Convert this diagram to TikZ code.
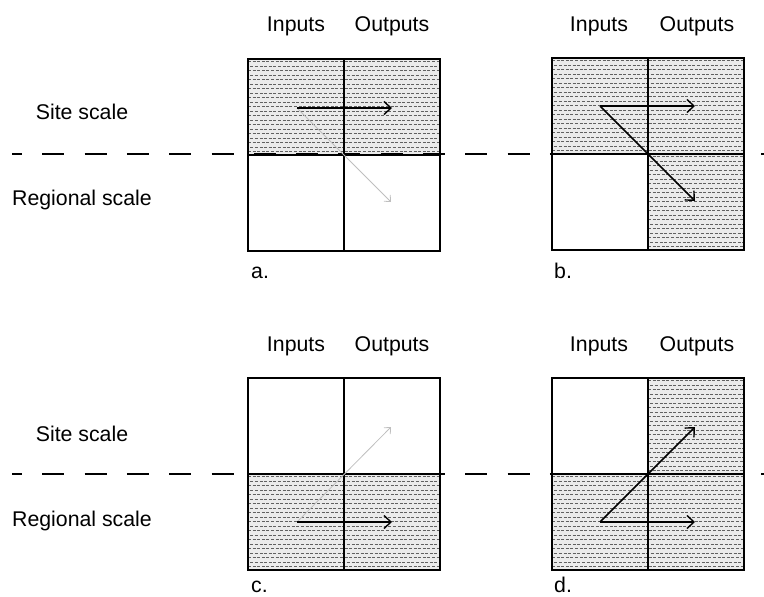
\documentclass[tikz,border=0pt]{standalone}
\usepackage{fontspec}
\setmainfont{Liberation Sans}
\usetikzlibrary{arrows.meta, positioning}

\begin{document}
\begin{tikzpicture}[
  x=1pt, y=-1pt,
  txt/.style={inner sep=0pt, anchor=base, font=\fontsize{21.3}{25}\selectfont},
  lettr/.style={inner sep=0pt, anchor=base west, font=\fontsize{21.3}{25}\selectfont},
  panel/.style={rectangle, draw=black, line width=1.2pt, minimum width=192pt, minimum height=192pt, inner sep=0pt},
  hatchfill/.style={fill=black!8},
  hatchline/.style={draw=black!62, line width=0.5pt, dash pattern=on 3pt off 1.6pt},
  midline/.style={line width=1.2pt},
  scaleline/.style={line width=1.2pt, dash pattern=on 22pt off 20.3pt, dash phase=32pt},
  flow/.style={-{Straight Barb[length=7pt, width=13pt, line width=1.4pt]}, line width=1.5pt},
  weak/.style={-{Straight Barb[length=5pt, width=9pt]}, draw=black!25, line width=0.8pt},
]
  \useasboundingbox (0,0) rectangle (764,597);

  % shaded cells
  \foreach \xa/\ya/\xb/\yb in {248/59/440/155, 552/58/744/154, 648/154/744/250,
                               248/474/440/570, 648/378/744/474, 552/474/744/570}{
    \fill[hatchfill] (\xa,\ya) rectangle (\xb,\yb);
    \begin{scope}
      \clip (\xa,\ya) rectangle (\xb,\yb);
      \foreach \k in {0,...,21}{
        \pgfmathsetmacro\ph{mod(\k,2)*2.3}
        \draw[hatchline, dash phase=\ph pt] (\xa,{\ya+2.5+\k*4.5}) -- (\xb,{\ya+2.5+\k*4.5});
      }
    \end{scope}
  }

  % panels
  \node[panel] (pa) at (344,155) {};
  \node[panel] (pb) at (648,154) {};
  \node[panel] (pc) at (344,474) {};
  \node[panel] (pd) at (648,474) {};
  \foreach \p in {pa,pb,pc,pd}{
    \draw[midline] (\p.north) -- (\p.south);
    \draw[midline] (\p.west) -- (\p.east);
  }

  % scale divides
  \coordinate (topl) at (12,154);
  \coordinate (topr) at (764,154);
  \coordinate (botl) at (12,474);
  \coordinate (botr) at (764,474);
  \draw[scaleline, dash phase=12pt] (topl) -- (topr);
  \draw[scaleline, dash phase=12pt] (botl) -- (botr);

  % headings
  \node[txt] (ina) at (296,31) {Inputs};
  \node[txt] (outa) at (392,31) {Outputs};
  \node[txt] (inb) at (599,31) {Inputs};
  \node[txt] (outb) at (697,31) {Outputs};
  \node[txt] (inc) at (296,351) {Inputs};
  \node[txt] (outc) at (392,351) {Outputs};
  \node[txt] (ind) at (599,351) {Inputs};
  \node[txt] (outd) at (697,351) {Outputs};

  \node[txt] (site1) at (82,119) {Site scale};
  \node[txt] (reg1) at (82,205) {Regional scale};
  \node[txt] (site2) at (82,441) {Site scale};
  \node[txt] (reg2) at (82,526) {Regional scale};

  \node[lettr] (la) at (251,278) {a.};
  \node[lettr] (lb) at (554,278) {b.};
  \node[lettr] (lc) at (251,592) {c.};
  \node[lettr] (ld) at (554,592) {d.};

  % a.
  \coordinate (a-si) at (297,108);
  \coordinate (a-so) at (392,108);
  \coordinate (a-ro) at (391,202);
  \draw[weak] (a-si) -- (a-ro);
  \draw[flow] (a-si) -- (a-so);

  % b.
  \coordinate (b-si) at (600,106);
  \coordinate (b-so) at (695,106);
  \coordinate (b-ro) at (695,201);
  \draw[flow] (b-si) -- (b-so);
  \draw[flow] (b-si) -- (b-ro);

  % c.
  \coordinate (c-ri) at (297,522);
  \coordinate (c-ro) at (392,522);
  \coordinate (c-so) at (391,427);
  \draw[weak] (c-ri) -- (c-so);
  \draw[flow] (c-ri) -- (c-ro);

  % d.
  \coordinate (d-ri) at (600,522);
  \coordinate (d-ro) at (695,522);
  \coordinate (d-so) at (695,427);
  \draw[flow] (d-ri) -- (d-ro);
  \draw[flow] (d-ri) -- (d-so);
\end{tikzpicture}
\end{document}
